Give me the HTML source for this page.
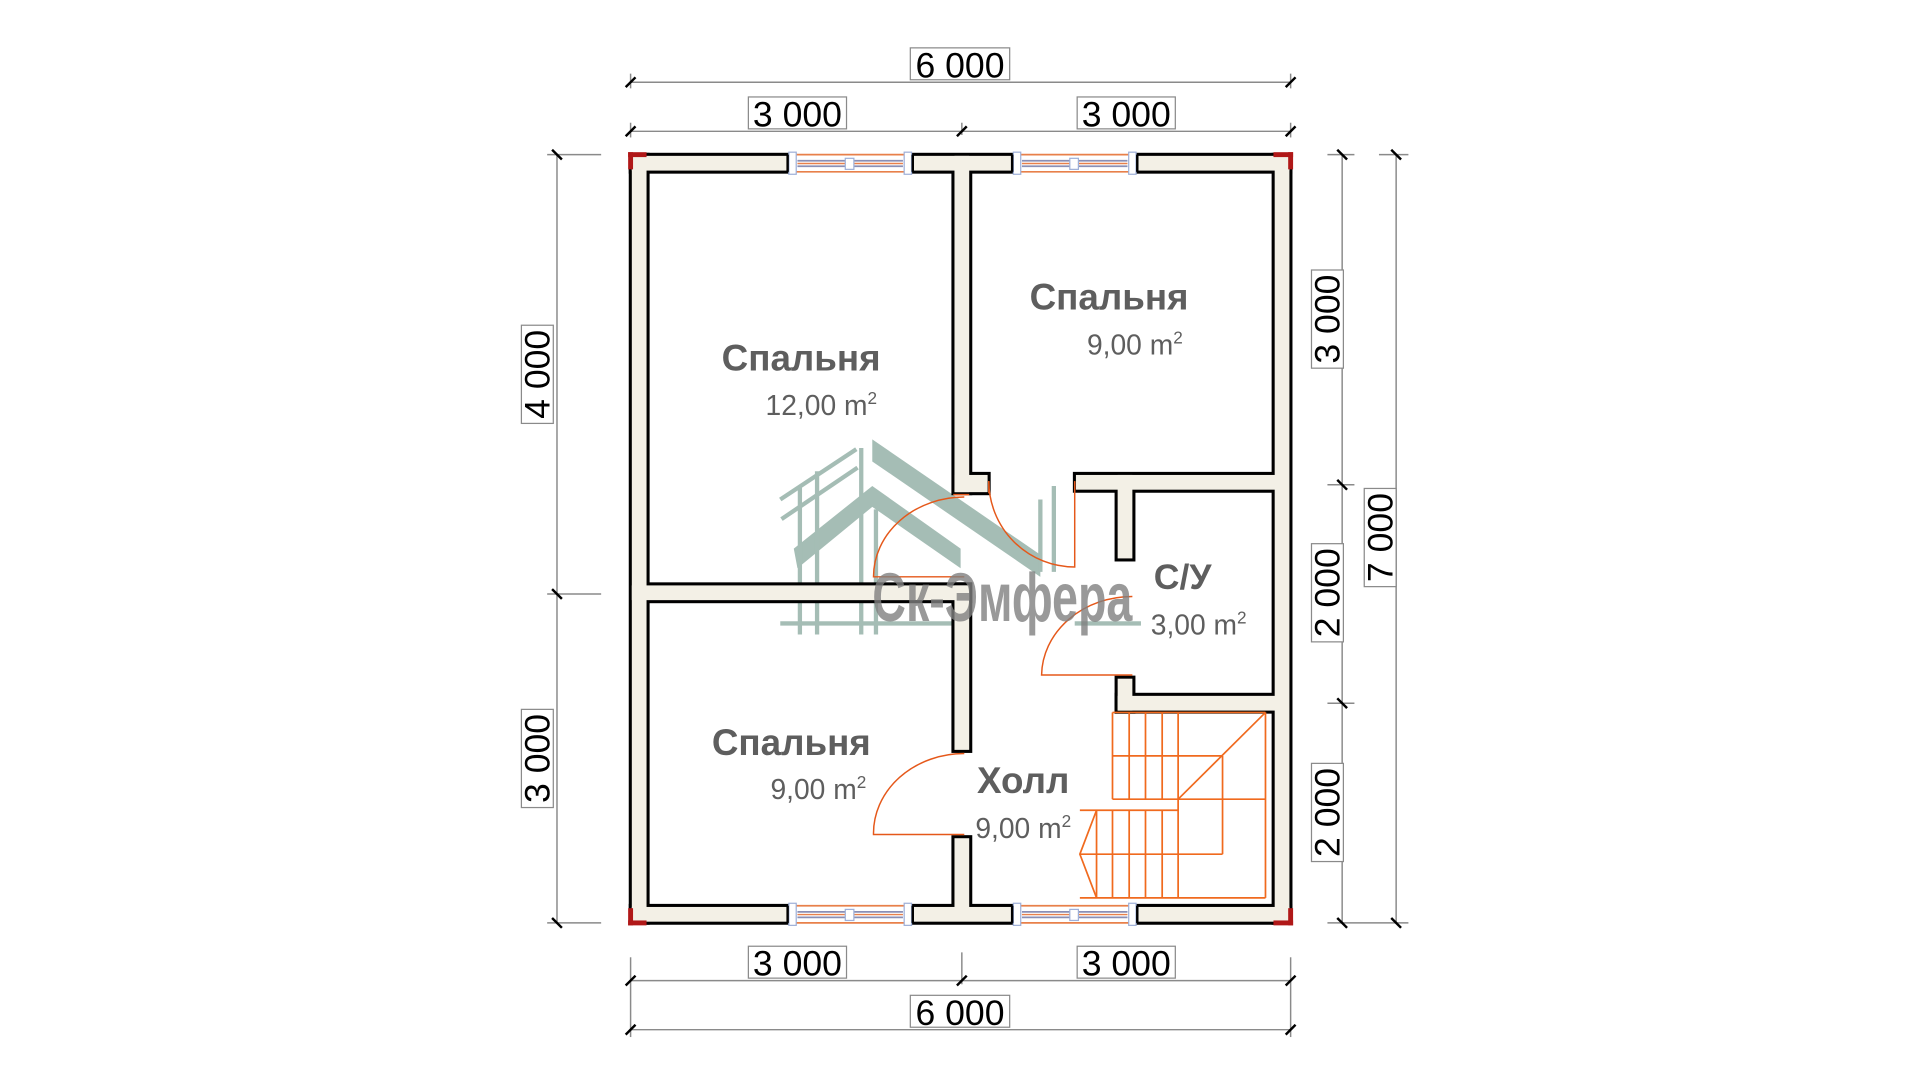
<!DOCTYPE html>
<html><head><meta charset="utf-8"><style>
html,body{margin:0;padding:0;background:#fff;width:1920px;height:1080px;overflow:hidden}
svg{display:block}
text{font-family:"Liberation Sans",sans-serif}
</style></head><body>
<svg width="1920" height="1080" viewBox="0 0 1565 880" preserveAspectRatio="none" xmlns="http://www.w3.org/2000/svg">
<rect width="1565" height="880" fill="#fff"/>

<!-- watermark logo -->
<g opacity="0.8">
<g fill="#8fada3">
<polygon points="711,358 848,452 848,470 711,376"/>
<polygon points="711,396 783,447 783,463 711,413 650,463 647,447"/>
</g>
<g stroke="#8fada3" stroke-width="3.5" fill="none">
<line x1="636" y1="407" x2="698" y2="366"/>
<line x1="637" y1="423" x2="699" y2="381"/>
<line x1="652" y1="396" x2="652" y2="517"/>
<line x1="666" y1="384" x2="666" y2="517"/>
<line x1="702" y1="365" x2="702" y2="517"/>
<line x1="714" y1="415" x2="714" y2="517"/>
<line x1="636" y1="508" x2="782" y2="508"/>
<line x1="848" y1="407" x2="848" y2="466"/>
<line x1="859" y1="396" x2="859" y2="466"/>
<line x1="876" y1="508" x2="930" y2="508"/>
</g>
</g>

<!-- walls: black layer -->
<g fill="#000">
<rect x="512.5" y="124.5" width="541" height="17"/>
<rect x="512.5" y="736.5" width="541" height="17"/>
<rect x="512.5" y="124.5" width="17" height="629"/>
<rect x="1036.5" y="124.5" width="17" height="629"/>
<rect x="775.5" y="138.5" width="17" height="265"/>
<rect x="789.5" y="384.5" width="18" height="19"/>
<rect x="526.5" y="474.5" width="266" height="17"/>
<rect x="775.5" y="474.5" width="17" height="139"/>
<rect x="775.5" y="680.5" width="17" height="59"/>
<rect x="874.5" y="384.5" width="165" height="17"/>
<rect x="908.5" y="398.5" width="17" height="59"/>
<rect x="908.5" y="550.5" width="17" height="31"/>
<rect x="908.5" y="564.5" width="131" height="17"/>
</g>
<!-- walls: fill layer -->
<g fill="#f3f0e6">
<rect x="515" y="127" width="536" height="12"/>
<rect x="515" y="739" width="536" height="12"/>
<rect x="515" y="127" width="12" height="624"/>
<rect x="1039" y="127" width="12" height="624"/>
<rect x="778" y="127" width="12" height="274"/>
<rect x="778" y="387" width="27" height="14"/>
<rect x="515" y="477" width="275" height="12"/>
<rect x="778" y="477" width="12" height="134"/>
<rect x="778" y="683" width="12" height="67"/>
<rect x="877" y="387" width="173" height="12"/>
<rect x="911" y="387" width="12" height="68"/>
<rect x="911" y="553" width="12" height="26"/>
<rect x="911" y="567" width="139" height="12"/>
</g>
<!-- red corners -->
<g fill="#b01818">
<rect x="512" y="124" width="15" height="4"/><rect x="512" y="124" width="4" height="14"/>
<rect x="1038" y="124" width="16" height="4"/><rect x="1050" y="124" width="4" height="14"/>
<rect x="512" y="750" width="15" height="4"/><rect x="512" y="740" width="4" height="14"/>
<rect x="1038" y="750" width="16" height="4"/><rect x="1050" y="740" width="4" height="14"/>
</g>

<!-- windows -->
<g id="win">
<rect x="645" y="124" width="96" height="18" fill="#fff"/>
<line x1="645" y1="126" x2="741" y2="126" stroke="#e8804a" stroke-width="1.4"/>
<line x1="645" y1="140" x2="741" y2="140" stroke="#e8804a" stroke-width="1.4"/>
<line x1="650" y1="131" x2="736" y2="131" stroke="#8a8fb5" stroke-width="1.4"/>
<line x1="650" y1="135.5" x2="736" y2="135.5" stroke="#8a8fb5" stroke-width="1.4"/>
<line x1="650" y1="133.2" x2="736" y2="133.2" stroke="#e8804a" stroke-width="1.2"/>
<rect x="689" y="129" width="7" height="9" fill="#fff" stroke="#9fb0d8" stroke-width="1"/>
<rect x="643" y="124" width="6" height="18" fill="#fff" stroke="#9fb0d8" stroke-width="1"/>
<rect x="737" y="124" width="6" height="18" fill="#fff" stroke="#9fb0d8" stroke-width="1"/>
<line x1="642" y1="126" x2="642" y2="140" stroke="#000" stroke-width="2"/>
<line x1="744" y1="126" x2="744" y2="140" stroke="#000" stroke-width="2"/>
</g>
<use href="#win" x="183" y="0"/>
<use href="#win" x="0" y="612"/>
<use href="#win" x="183" y="612"/>

<!-- doors -->
<g stroke="#e5581a" stroke-width="1.2" fill="none">
<path d="M786,405 A74,65 0 0 0 712,470 L786,470"/>
<line x1="777" y1="403" x2="790" y2="403"/>
<path d="M806,392 A70,70 0 0 0 876,462 L876,392"/>
<line x1="806" y1="392" x2="806" y2="402"/>
<path d="M923,486 A74,65 0 0 0 849,550 L923,550"/>
<path d="M786,614 A74,65 0 0 0 712,680 L786,680"/>
</g>

<!-- stairs -->
<g stroke="#f06a1e" stroke-width="1.4" fill="none">
<line x1="906.8" y1="580.5" x2="1031.5" y2="580.5"/>
<line x1="1031.5" y1="580.5" x2="1031.5" y2="731.6"/>
<line x1="880.2" y1="731.6" x2="1031.5" y2="731.6"/>
<line x1="906.8" y1="580.5" x2="906.8" y2="651.2"/>
<line x1="920.4" y1="580.5" x2="920.4" y2="651.2"/>
<line x1="933.7" y1="580.5" x2="933.7" y2="651.2"/>
<line x1="947.3" y1="580.5" x2="947.3" y2="651.2"/>
<line x1="960.3" y1="580.5" x2="960.3" y2="731.6"/>
<line x1="906.8" y1="615.9" x2="996.5" y2="615.9"/>
<line x1="906.8" y1="651.2" x2="1031.5" y2="651.2"/>
<line x1="996.5" y1="615.9" x2="996.5" y2="696"/>
<line x1="1031.5" y1="580.5" x2="960.3" y2="651.2"/>
<line x1="880.2" y1="660.2" x2="960.3" y2="660.2"/>
<line x1="880.2" y1="696" x2="996.5" y2="696"/>
<line x1="893.8" y1="660.2" x2="893.8" y2="731.6"/>
<line x1="906.8" y1="660.2" x2="906.8" y2="731.6"/>
<line x1="920.4" y1="660.2" x2="920.4" y2="731.6"/>
<line x1="933.7" y1="660.2" x2="933.7" y2="731.6"/>
<line x1="947.3" y1="660.2" x2="947.3" y2="731.6"/>
<polyline points="893.8,660.2 880.2,696 893.8,731.6"/>
</g>

<!-- watermark text -->
<text x="711" y="506" font-size="56" font-weight="bold" fill="#808080" fill-opacity="0.8" textLength="212" lengthAdjust="spacingAndGlyphs">Ск-Эмфера</text>

<!-- room labels -->
<g fill="#5e5e5e">
<text x="653" y="302" font-size="30" font-weight="bold" text-anchor="middle">Спальня</text>
<text x="624" y="338" font-size="23">12,00 m<tspan font-size="14" dy="-9">2</tspan></text>
<text x="904" y="252" font-size="30" font-weight="bold" text-anchor="middle">Спальня</text>
<text x="886" y="289" font-size="23">9,00 m<tspan font-size="14" dy="-9">2</tspan></text>
<text x="964" y="480" font-size="29" font-weight="bold" text-anchor="middle">С/У</text>
<text x="938" y="517" font-size="23">3,00 m<tspan font-size="14" dy="-9">2</tspan></text>
<text x="645" y="615" font-size="30" font-weight="bold" text-anchor="middle">Спальня</text>
<text x="628" y="651" font-size="23">9,00 m<tspan font-size="14" dy="-9">2</tspan></text>
<text x="834" y="646" font-size="30" font-weight="bold" text-anchor="middle">Холл</text>
<text x="795" y="683" font-size="23">9,00 m<tspan font-size="14" dy="-9">2</tspan></text>
</g>

<!-- dimension lines -->
<g stroke="#8a8a8a" stroke-width="1.2" fill="none">
<line x1="514" y1="67" x2="1052" y2="67"/>
<line x1="514" y1="107" x2="1052" y2="107"/>
<line x1="514" y1="799" x2="1052" y2="799"/>
<line x1="514" y1="839" x2="1052" y2="839"/>
<line x1="784" y1="100" x2="784" y2="110"/>
<line x1="784" y1="776" x2="784" y2="802"/>
<line x1="514" y1="60" x2="514" y2="72"/><line x1="1052" y1="60" x2="1052" y2="72"/>
<line x1="514" y1="100" x2="514" y2="112"/><line x1="1052" y1="100" x2="1052" y2="112"/>
<line x1="514" y1="780" x2="514" y2="845"/><line x1="1052" y1="780" x2="1052" y2="845"/>
<line x1="454" y1="126" x2="454" y2="752"/>
<line x1="446" y1="126" x2="490" y2="126"/>
<line x1="446" y1="484" x2="490" y2="484"/>
<line x1="446" y1="752" x2="490" y2="752"/>
<line x1="1094" y1="126" x2="1094" y2="752"/>
<line x1="1138" y1="126" x2="1138" y2="752"/>
<line x1="1082" y1="126" x2="1104" y2="126"/>
<line x1="1082" y1="395" x2="1104" y2="395"/>
<line x1="1082" y1="573" x2="1104" y2="573"/>
<line x1="1082" y1="752" x2="1148" y2="752"/>
<line x1="1124" y1="126" x2="1148" y2="126"/>
</g>
<g stroke="#000" stroke-width="2">
<line x1="510" y1="71" x2="518" y2="63"/><line x1="1048" y1="71" x2="1056" y2="63"/>
<line x1="510" y1="111" x2="518" y2="103"/><line x1="780" y1="111" x2="788" y2="103"/><line x1="1048" y1="111" x2="1056" y2="103"/>
<line x1="510" y1="803" x2="518" y2="795"/><line x1="780" y1="803" x2="788" y2="795"/><line x1="1048" y1="803" x2="1056" y2="795"/>
<line x1="510" y1="843" x2="518" y2="835"/><line x1="1048" y1="843" x2="1056" y2="835"/>
<line x1="450" y1="122" x2="458" y2="130"/><line x1="450" y1="480" x2="458" y2="488"/><line x1="450" y1="748" x2="458" y2="756"/>
<line x1="1090" y1="122" x2="1098" y2="130"/><line x1="1090" y1="391" x2="1098" y2="399"/><line x1="1090" y1="569" x2="1098" y2="577"/><line x1="1090" y1="748" x2="1098" y2="756"/>
<line x1="1134" y1="122" x2="1142" y2="130"/><line x1="1134" y1="748" x2="1142" y2="756"/>
</g>
<!-- dimension labels -->
<g fill="#fff" stroke="#8a8a8a" stroke-width="1">
<rect x="742" y="39" width="81" height="26"/>
<rect x="610" y="79" width="80" height="26"/>
<rect x="878" y="79" width="80" height="26"/>
<rect x="610" y="771" width="80" height="26"/>
<rect x="878" y="771" width="80" height="26"/>
<rect x="742" y="811" width="81" height="26"/>
<rect x="425" y="265" width="26" height="80"/>
<rect x="425" y="578" width="26" height="80"/>
<rect x="1069" y="220" width="26" height="80"/>
<rect x="1069" y="443" width="26" height="80"/>
<rect x="1069" y="622" width="26" height="80"/>
<rect x="1112" y="398" width="26" height="80"/>
</g>
<g fill="#000" font-size="29" text-anchor="middle">
<text x="782.5" y="63">6 000</text>
<text x="650" y="103">3 000</text>
<text x="918" y="103">3 000</text>
<text x="650" y="795">3 000</text>
<text x="918" y="795">3 000</text>
<text x="782.5" y="835">6 000</text>
<text transform="translate(448,305) rotate(-90)" x="0" y="0">4 000</text>
<text transform="translate(448,618) rotate(-90)">3 000</text>
<text transform="translate(1092,260) rotate(-90)">3 000</text>
<text transform="translate(1092,483) rotate(-90)">2 000</text>
<text transform="translate(1092,662) rotate(-90)">2 000</text>
<text transform="translate(1135,438) rotate(-90)">7 000</text>
</g>
</svg>
</body></html>
